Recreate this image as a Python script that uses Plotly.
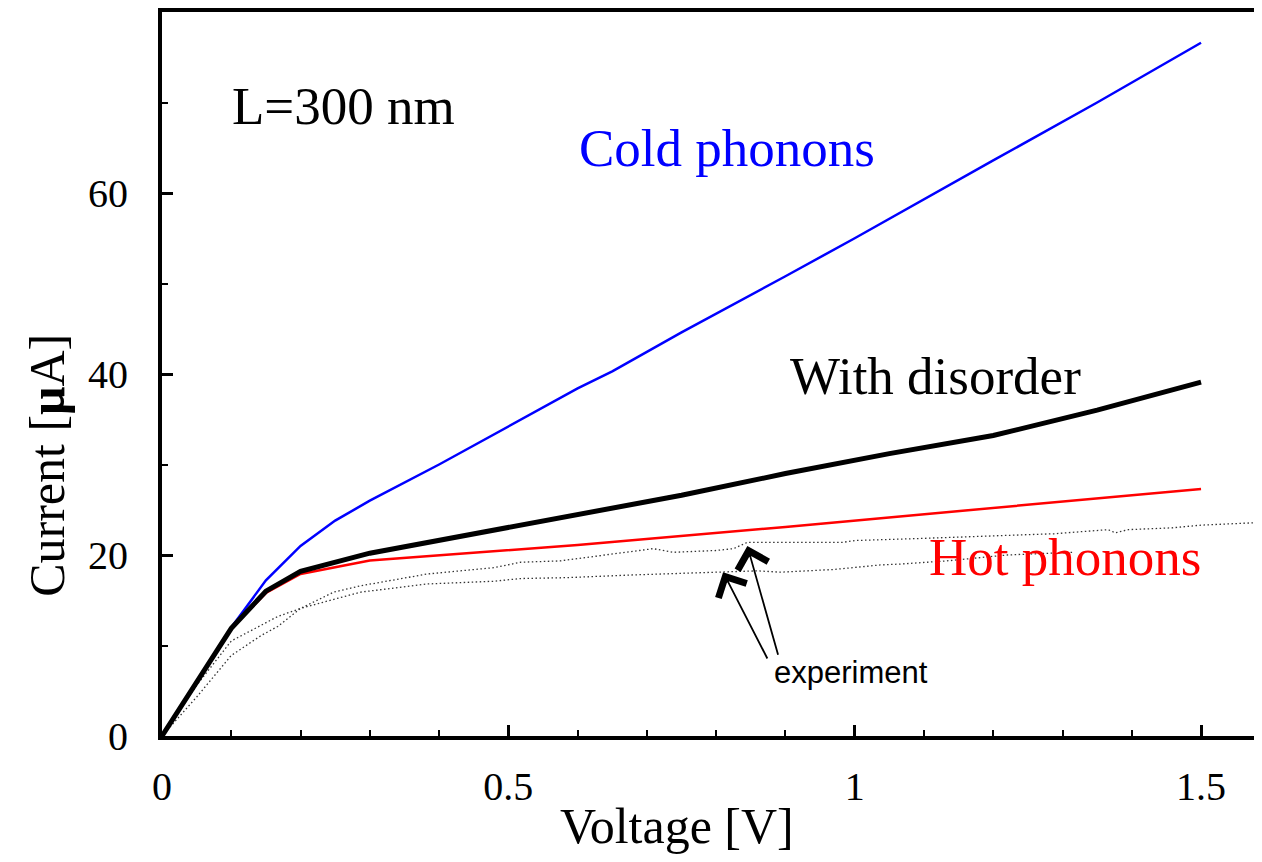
import plotly.graph_objects as go

# ---- data ----
cold_v = [0, 0.05, 0.1, 0.15, 0.2, 0.25, 0.3, 0.4, 0.5, 0.6, 0.65, 0.75, 0.9, 1.0, 1.2, 1.35, 1.5]
cold_i = [0, 6.0, 12.0, 17.2, 21.0, 23.8, 26.0, 30.0, 34.2, 38.4, 40.3, 44.6, 50.8, 55.0, 63.6, 70.0, 76.6]

dis_v = [0, 0.1, 0.15, 0.2, 0.3, 0.45, 0.6, 0.75, 0.9, 1.05, 1.2, 1.35, 1.5]
dis_i = [0, 11.9, 16.0, 18.2, 20.2, 22.3, 24.5, 26.6, 29.0, 31.2, 33.2, 36.0, 39.1]

hot_v = [0, 0.1, 0.15, 0.2, 0.3, 0.6, 0.9, 1.2, 1.5]
hot_i = [0, 11.9, 15.8, 17.9, 19.4, 21.1, 23.1, 25.2, 27.3]

expA_v = [0, 0.05, 0.1, 0.143, 0.167, 0.2, 0.248, 0.287, 0.383, 0.479, 0.518, 0.575, 0.65,
          0.709, 0.738, 0.8, 0.825, 0.845, 0.983, 1.0, 1.085, 1.197, 1.288, 1.366, 1.376,
          1.395, 1.458, 1.5, 1.588]
expA_i = [0, 5.6, 10.5, 12.2, 13.2, 14.1, 15.9, 16.6, 17.9, 18.6, 19.2, 19.35, 20.1,
          20.7, 20.3, 20.5, 20.7, 21.4, 21.4, 21.6, 21.8, 22.1, 22.35, 22.8, 22.45,
          22.8, 23.0, 23.3, 23.6]

expB_v = [0, 0.05, 0.1, 0.143, 0.167, 0.2, 0.248, 0.287, 0.383, 0.479, 0.518, 0.585, 0.681,
          0.816, 0.859, 0.893, 0.97, 1.037, 1.066, 1.133, 1.22, 1.298, 1.317]
expB_i = [0, 4.3, 8.9, 11.1, 12.1, 14.1, 15.1, 15.9, 16.8, 17.1, 17.4, 17.5, 17.8,
          18.1, 18.25, 18.1, 18.4, 18.9, 19.0, 19.35, 20.0, 20.25, 20.3]

x_ticks = [0, 0.5, 1, 1.5]
x_tick_text = ["0", "0.5", "1", "1.5"]
y_ticks = [0, 20, 40, 60]
y_tick_text = ["0", "20", "40", "60"]

labels = [
    ("L=300 nm", 0.262, 69.6, "black"),
    ("Cold phonons", 0.816, 65.0, "blue"),
    ("With disorder", 1.116, 39.8, "black"),
    ("Hot phonons", 1.304, 19.8, "red"),
]
# arrows: (tip V, tip I, tail V, tail I)
arrows = [(0.810, 18.1, 0.875, 8.4), (0.845, 21.0, 0.890, 8.8)]
exp_label = ("experiment", 0.995, 7.0)

SERIF = "Liberation Serif, Times New Roman, serif"
SANS = "Liberation Sans, Arial, sans-serif"

fig = go.Figure()
dotted = dict(color="#333333", width=1.3, dash="1.5px,2.5px")
fig.add_trace(go.Scatter(x=expA_v, y=expA_i, mode="lines", line=dotted, showlegend=False))
fig.add_trace(go.Scatter(x=expB_v, y=expB_i, mode="lines", line=dotted, showlegend=False))
fig.add_trace(go.Scatter(x=cold_v, y=cold_i, mode="lines", line=dict(color="#0000ff", width=2.5), showlegend=False))
fig.add_trace(go.Scatter(x=hot_v, y=hot_i, mode="lines", line=dict(color="#ff0000", width=2.5), showlegend=False))
fig.add_trace(go.Scatter(x=dis_v, y=dis_i, mode="lines", line=dict(color="black", width=5), showlegend=False))

annotations = []
for text, xv, yv, col in labels:
    annotations.append(dict(x=xv, y=yv, xref="x", yref="y", text=text, showarrow=False,
                            font=dict(family=SERIF, size=53, color=col),
                            xanchor="center", yanchor="middle"))
for tx, ty, ax, ay in arrows:
    annotations.append(dict(x=tx, y=ty, xref="x", yref="y", ax=ax, ay=ay, axref="x", ayref="y",
                            text="", showarrow=True, arrowhead=4, arrowsize=3.4, arrowwidth=1.8,
                            arrowcolor="black"))
annotations.append(dict(x=exp_label[1], y=exp_label[2], xref="x", yref="y", text=exp_label[0],
                        showarrow=False, font=dict(family=SANS, size=31, color="black"),
                        xanchor="center", yanchor="middle"))
annotations.append(dict(x=0.744, y=-0.124, xref="x", yref="paper", text="Voltage [V]",
                        showarrow=False, font=dict(family=SERIF, size=50, color="black"),
                        xanchor="center", yanchor="middle"))
annotations.append(dict(x=-0.104, y=0.374, xref="paper", yref="paper", text="Current [<b>μ</b>A]",
                        showarrow=False, textangle=-90,
                        font=dict(family=SERIF, size=50, color="black"),
                        xanchor="center", yanchor="middle"))

# page body adds an 8px offset; figure sized so the plot lands where the reference has it
fig.update_layout(
    width=1254, height=854,
    margin=dict(l=154, r=0, t=2, b=126),
    paper_bgcolor="white", plot_bgcolor="white",
    annotations=annotations,
    showlegend=False,
)
fig.update_xaxes(
    range=[0, 1.588], showline=True, linewidth=4, linecolor="black", mirror=True,
    ticks="inside", ticklen=11, tickwidth=3, tickcolor="black",
    tickvals=x_ticks, ticktext=x_tick_text,
    tickfont=dict(family=SERIF, size=40, color="black"),
    showgrid=False, zeroline=False, ticklabelstandoff=12,
    minor=dict(dtick=0.1, tick0=0, ticks="inside", ticklen=6, tickwidth=2, tickcolor="black", showgrid=False),
)
fig.update_yaxes(
    range=[0, 80], showline=True, linewidth=4, linecolor="black", mirror=False,
    ticks="inside", ticklen=11, tickwidth=3, tickcolor="black",
    tickvals=y_ticks, ticktext=y_tick_text,
    tickfont=dict(family=SERIF, size=40, color="black"),
    showgrid=False, zeroline=False, ticklabelstandoff=22,
    minor=dict(dtick=10, tick0=0, ticks="inside", ticklen=6, tickwidth=2, tickcolor="black", showgrid=False),
)

fig.write_html("out.html")
